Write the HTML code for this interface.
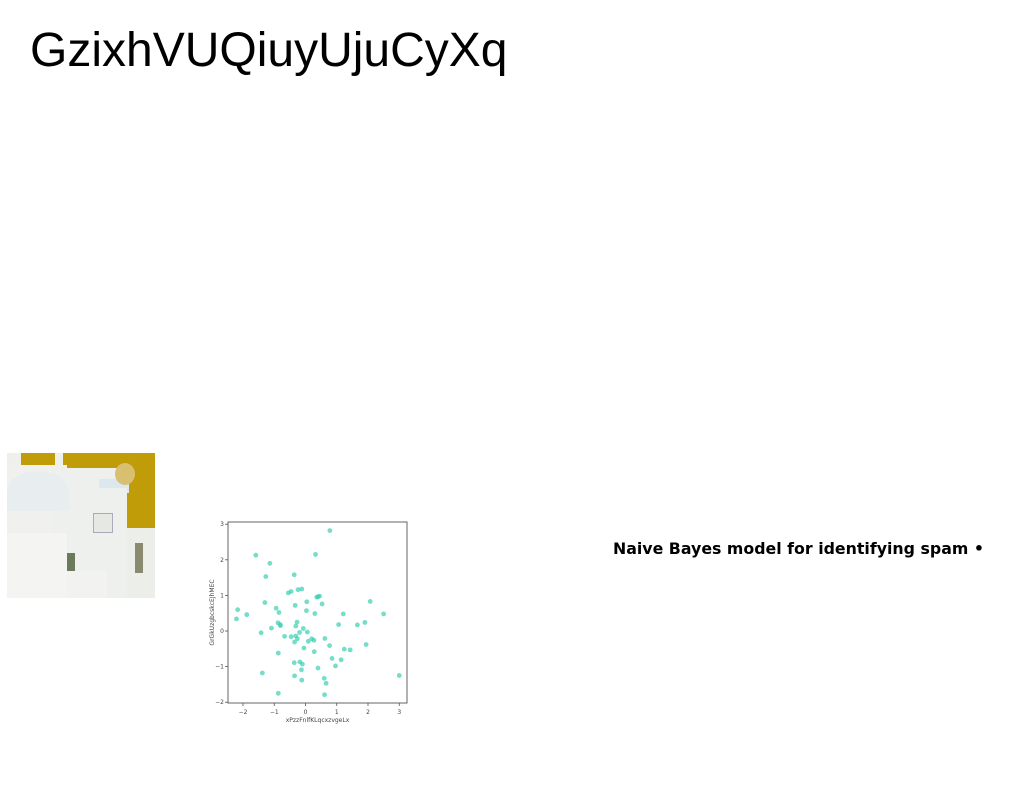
<!DOCTYPE html>
<html>
<head>
<meta charset="utf-8">
<style>
  html,body{margin:0;padding:0;background:#fff;}
  body{width:1024px;height:788px;position:relative;overflow:hidden;font-family:"Liberation Sans",sans-serif;}
  #title{position:absolute;left:30px;top:23px;font-size:48px;line-height:56px;color:#000;margin:0;font-weight:normal;white-space:nowrap;}
  #photo{position:absolute;left:7px;top:453px;width:148px;height:145px;background:#c09c08;overflow:hidden;}
  #photo div{position:absolute;}
  #caption{position:absolute;left:613px;top:539px;font-family:"DejaVu Sans",sans-serif;font-weight:bold;font-size:15.8px;line-height:20px;color:#000;white-space:nowrap;}
  #chart{position:absolute;left:0;top:0;}
</style>
</head>
<body>
<h1 id="title">GzixhVUQiuyUjuCyXq</h1>

<div id="photo">
  <div style="left:0;top:0;width:14px;height:145px;background:#eef0ec"></div>
  <div style="left:0;top:12px;width:60px;height:133px;background:#f0f1ee"></div>
  <div style="left:48px;top:0;width:8px;height:25px;background:#eef0ec"></div>
  <div style="left:45px;top:15px;width:65px;height:130px;background:#eef0ed"></div>
  <div style="left:0;top:18px;width:62px;height:40px;background:#e8eef0;border-radius:50% 50% 0 0"></div>
  <div style="left:92px;top:26px;width:30px;height:14px;background:#dce8ee"></div>
  <div style="left:85px;top:35px;width:35px;height:110px;background:#eef0ed"></div>
  <div style="left:120px;top:75px;width:28px;height:70px;background:#eceeea"></div>
  <div style="left:128px;top:90px;width:8px;height:30px;background:#8a8a70"></div>
  <div style="left:58px;top:100px;width:10px;height:20px;background:#6a7a5a"></div>
  <div style="left:86px;top:60px;width:18px;height:18px;border:1px solid #aab;background:#e6e8e4"></div>
  <div style="left:0;top:80px;width:60px;height:65px;background:#f4f4f2"></div>
  <div style="left:60px;top:118px;width:40px;height:27px;background:#f2f2f0"></div>
  <div style="left:108px;top:10px;width:20px;height:22px;background:#d8c070;border-radius:50%"></div>
</div>

<svg id="chart" width="1024" height="788"></svg>

<div id="caption">Naive Bayes model for identifying spam •</div>

<script>
const xValues = [0.78,-1.59,0.32,-1.14,-1.27,-0.36,-0.55,-0.46,-0.24,-0.12,0.36,0.45,0.40,0.04,0.53,2.07,-1.30,-0.33,-2.17,-0.94,0.03,-1.88,-0.85,0.30,1.21,2.50,-2.21,-0.88,-0.27,-0.81,-0.80,1.06,1.66,1.90,-0.31,-1.09,-0.07,-1.42,-0.19,0.06,-0.67,-0.46,-0.31,-0.26,0.20,0.27,0.62,-0.35,0.09,0.77,1.94,-0.05,1.24,1.43,0.28,-0.87,0.85,1.14,-0.36,-0.18,-0.10,0.96,0.40,-0.13,-1.38,3.00,-0.35,0.60,-0.12,0.66,-0.87,0.61];
const yValues = [2.82,2.13,2.15,1.90,1.53,1.58,1.07,1.11,1.16,1.18,0.95,0.98,0.96,0.82,0.76,0.83,0.80,0.72,0.60,0.64,0.57,0.46,0.52,0.49,0.48,0.48,0.34,0.23,0.25,0.18,0.15,0.18,0.17,0.24,0.14,0.08,0.07,-0.05,-0.04,-0.03,-0.15,-0.16,-0.14,-0.22,-0.22,-0.26,-0.21,-0.31,-0.29,-0.41,-0.38,-0.48,-0.51,-0.53,-0.58,-0.62,-0.77,-0.81,-0.89,-0.87,-0.93,-0.98,-1.04,-1.09,-1.18,-1.25,-1.26,-1.33,-1.38,-1.47,-1.75,-1.79];
const xTicks = [-2,-1,0,1,2,3];
const yTicks = [-2,-1,0,1,2,3];
const xTickLabels = ["\u22122","\u22121","0","1","2","3"];
const yTickLabels = ["\u22122","\u22121","0","1","2","3"];
const xLabel = "xPzzFnlfKLqcxzvgeLx";
const yLabel = "GrGkUzgbcskcEJhMEC";

const svg = document.getElementById('chart');
const NS = 'http://www.w3.org/2000/svg';
const L = 228, R = 407, T = 522, B = 703;
function xs(v){ return 305.5 + v * 31.25; }
function ys(v){ return 631 - v * 35.6; }
function mk(tag, attrs){ const e = document.createElementNS(NS, tag); for (const k in attrs) e.setAttribute(k, attrs[k]); svg.appendChild(e); return e; }

const frame = mk('rect', {x:L, y:T, width:R-L, height:B-T, fill:'none', stroke:'#666', 'stroke-width':1});



xTicks.forEach((t, i) => {
  const x = xs(t);
  const tk = mk('line', {x1:x, x2:x, y1:B, y2:B+3, stroke:'#555', 'stroke-width':0.8});
  
  
  const tl = mk('text', {x:x, y:B+11, 'font-size':6, 'text-anchor':'middle', fill:'#444', 'font-family':'DejaVu Sans, sans-serif'});
  tl.textContent = xTickLabels[i];
  
  
});
yTicks.forEach((t, i) => {
  const y = ys(t);
  const tk = mk('line', {x1:L-3, x2:L, y1:y, y2:y, stroke:'#555', 'stroke-width':0.8});
  
  
  const tl = mk('text', {x:L-4, y:y+2, 'font-size':6, 'text-anchor':'end', fill:'#444', 'font-family':'DejaVu Sans, sans-serif'});
  tl.textContent = yTickLabels[i];
  
  
});

const xl = mk('text', {x:(L+R)/2, y:722, 'font-size':6, 'text-anchor':'middle', fill:'#444', 'font-family':'DejaVu Sans, sans-serif'});
xl.textContent = xLabel;


const yl = mk('text', {x:0, y:0, 'font-size':6, 'text-anchor':'middle', fill:'#444', 'font-family':'DejaVu Sans, sans-serif', transform:'translate(214,'+((T+B)/2)+') rotate(-90)'});
yl.textContent = yLabel;



for (let i = 0; i < xValues.length; i++) {
  const c = mk('circle', {cx:xs(xValues[i]), cy:ys(yValues[i]), r:2.4, fill:'#3ccfb0', 'fill-opacity':0.7});
  
  
}
</script>
</body>
</html>
